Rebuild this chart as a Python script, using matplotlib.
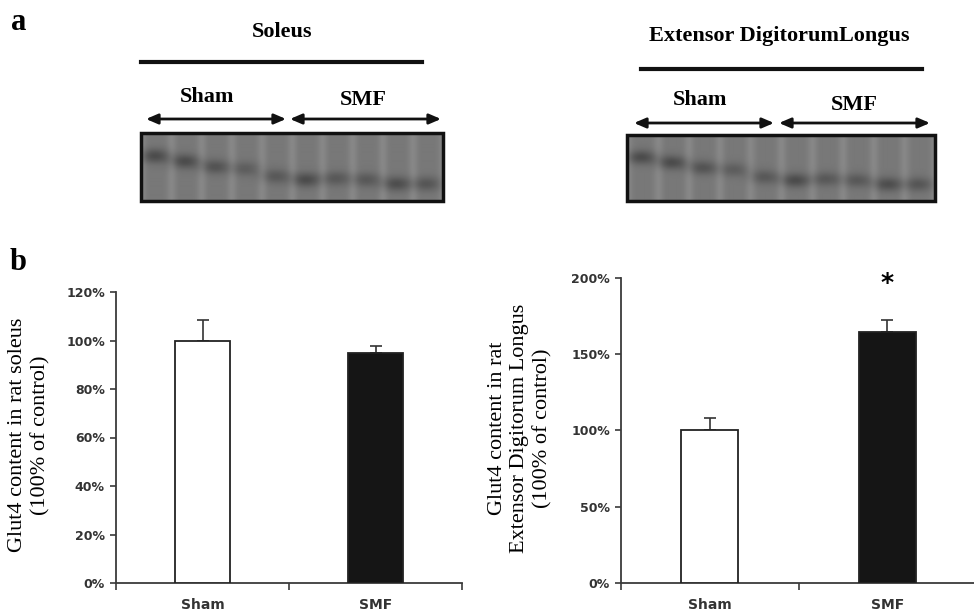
import numpy as np
import matplotlib.pyplot as plt
from matplotlib.patches import Rectangle

# bar data (percent of control)
groups = ['Sham', 'SMF']
soleus_mean = [100, 94.8]
soleus_err = [8.4, 3.0]
edl_mean = [100, 164.4]
edl_err = [8.0, 8.0]

# western blot bands: vertical position (fraction of blot height) and darkness per lane
band_pos = [0.33, 0.41, 0.49, 0.52, 0.63, 0.68, 0.66, 0.68, 0.74, 0.74]
band_dark = [0.17, 0.17, 0.14, 0.10, 0.12, 0.17, 0.12, 0.12, 0.16, 0.13]

serif = 'Liberation Serif'
sans = 'DejaVu Sans'
axcol = '#3a3a3a'

fig = plt.figure(figsize=(9.74, 6.12), dpi=100)

# overlay in pixel coordinates for panel a and labels
ov = fig.add_axes([0, 0, 1, 1])
ov.set_xlim(0, 974)
ov.set_ylim(612, 0)
ov.axis('off')


def make_blot(h=66, w=302):
    yy, xx = np.mgrid[0:h, 0:w]
    img = np.full((h, w), 0.47)
    lane_w = w / 10.0
    for i in range(11):
        img += 0.06 * np.exp(-((xx - i * lane_w) ** 2) / (2 * 3.5 ** 2))
    for i in range(10):
        cx = (i + 0.45) * lane_w
        cy = band_pos[i] * h
        img -= band_dark[i] * np.exp(-((xx - cx) ** 2) / (2 * 10 ** 2)
                                     - ((yy - cy) ** 2) / (2 * 5 ** 2))
    return img


def draw_blot(x0, x1, y0, y1):
    ov.imshow(make_blot(), cmap='gray', vmin=0, vmax=1, extent=(x0, x1, y1, y0),
              aspect='auto', interpolation='bilinear')
    ov.add_patch(Rectangle((x0, y0), x1 - x0, y1 - y0, fill=False, ec='#111111', lw=2.5))


def double_arrow(x0, x1, y):
    ov.annotate('', xy=(x1, y), xytext=(x0, y),
                arrowprops=dict(arrowstyle='<|-|>,head_length=0.7,head_width=0.3',
                                color='#111111', lw=2, shrinkA=0, shrinkB=0))


# panel a, soleus
ov.text(19, 22, 'a', fontsize=22, fontweight='bold', family=serif, ha='center', va='center')
ov.text(282, 32, 'Soleus', fontsize=16, fontweight='bold', family=serif, ha='center', va='center')
ov.plot([141, 422], [62, 62], color='#111111', lw=3)
ov.text(207, 97, 'Sham', fontsize=16, fontweight='bold', family=serif, ha='center', va='center')
ov.text(363, 100, 'SMF', fontsize=16, fontweight='bold', family=serif, ha='center', va='center')
double_arrow(146, 286, 119)
double_arrow(290, 441, 119)
draw_blot(141, 443, 133, 201)

# panel a, EDL
ov.text(779, 36, 'Extensor DigitorumLongus', fontsize=16, fontweight='bold', family=serif,
        ha='center', va='center')
ov.plot([641, 922], [69, 69], color='#111111', lw=3)
ov.text(700, 100, 'Sham', fontsize=16, fontweight='bold', family=serif, ha='center', va='center')
ov.text(854, 105, 'SMF', fontsize=16, fontweight='bold', family=serif, ha='center', va='center')
double_arrow(634, 774, 123)
double_arrow(779, 930, 123)
draw_blot(627, 935, 135, 201)

# panel b
ov.text(18, 263, 'b', fontsize=22, fontweight='bold', family=serif, ha='center', va='center')
ov.text(29, 435, 'Glut4 content in rat soleus\n(100% of control)', rotation=90,
        fontsize=16, family=serif, ha='center', va='center', linespacing=1.25)
ov.text(520, 428, 'Glut4 content in rat\nExtensor Digitorum Longus\n(100% of control)',
        rotation=90, fontsize=16, family=serif, ha='center', va='center', linespacing=1.25)


def bar_chart(rect, means, errs, ymax, step):
    ax = fig.add_axes(rect)
    x = np.arange(len(groups))
    ax.bar(x, means, width=0.32, color=['white', '#151515'], edgecolor='#222222', lw=1.3, zorder=3)
    ax.errorbar(x, means, yerr=[[0] * len(errs), errs], fmt='none', ecolor='#333333',
                elinewidth=1.2, capsize=4, capthick=1.2, zorder=2)
    ax.set_xlim(-0.5, 1.5)
    ax.set_ylim(0, ymax)
    yt = np.arange(0, ymax + 1, step)
    ax.set_yticks(yt)
    ax.set_yticklabels(['%d%%' % v for v in yt])
    ax.set_xticks(x)
    ax.set_xticklabels(groups)
    ax.set_xticks([-0.5, 0.5, 1.5], minor=True)
    ax.tick_params(axis='x', which='major', length=0, pad=11)
    ax.tick_params(axis='x', which='minor', length=5, width=1.2, color=axcol)
    ax.tick_params(axis='y', length=4, width=1.2, color=axcol, pad=4)
    for lab in ax.get_yticklabels():
        lab.set(fontsize=9, fontweight='bold', family=sans, color='#333333')
    for lab in ax.get_xticklabels():
        lab.set(fontsize=10, fontweight='bold', family=sans, color='#333333')
    for s in ['top', 'right']:
        ax.spines[s].set_visible(False)
    for s in ['left', 'bottom']:
        ax.spines[s].set_color(axcol)
        ax.spines[s].set_linewidth(1.3)
    ax.patch.set_alpha(0)
    return ax


ax1 = bar_chart([116 / 974, 29 / 612, 346 / 974, 291 / 612], soleus_mean, soleus_err, 120, 20)
ax2 = bar_chart([621 / 974, 29.3 / 612, 355 / 974, 304.7 / 612], edl_mean, edl_err, 200, 50)
ax2.text(1, 197, '*', fontsize=18, fontweight='bold', family=sans, ha='center', va='center')

fig.savefig('out.png', dpi=100)
